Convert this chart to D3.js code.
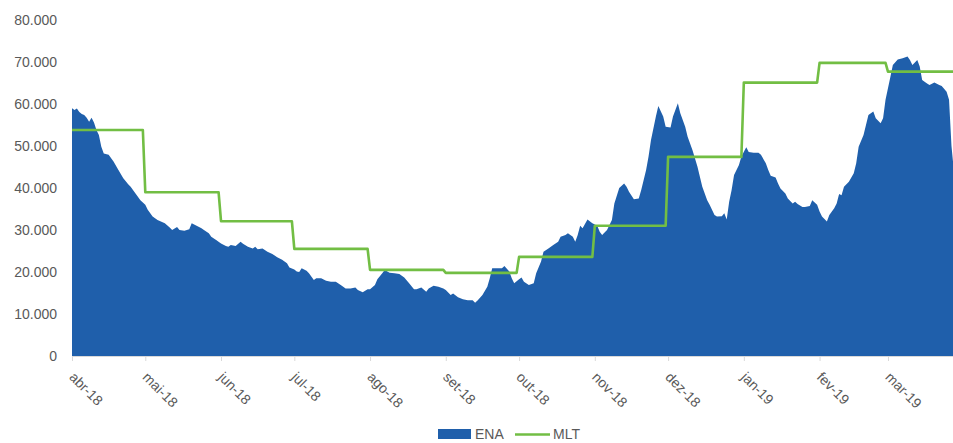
<!DOCTYPE html>
<html>
<head>
<meta charset="utf-8">
<script src="https://cdn.jsdelivr.net/npm/d3@7"></script>
<style>
  html, body { margin: 0; padding: 0; background: #ffffff; }
  svg { display: block; font-family: "Liberation Sans", Arial, sans-serif; }
</style>
</head>
<body>
<svg id="chart" width="953" height="443"></svg>
<script>
// Energia Natural Afluente (ENA) diária, MWmed
const enaSeries = [
  ["2018-04-01", 59000], ["2018-04-02", 58600], ["2018-04-03", 58900], ["2018-04-04", 58100],
  ["2018-04-05", 57600], ["2018-04-06", 57400], ["2018-04-07", 56700], ["2018-04-08", 55800],
  ["2018-04-09", 56700], ["2018-04-10", 55600], ["2018-04-11", 53800], ["2018-04-12", 52600],
  ["2018-04-13", 49800], ["2018-04-14", 48200], ["2018-04-16", 47900], ["2018-04-18", 46300],
  ["2018-04-20", 44300], ["2018-04-22", 42300], ["2018-04-24", 40900], ["2018-04-25", 40300],
  ["2018-04-27", 38700], ["2018-04-29", 37100], ["2018-05-01", 36000], ["2018-05-02", 34800],
  ["2018-05-04", 33200], ["2018-05-06", 32400], ["2018-05-09", 31600], ["2018-05-11", 30600],
  ["2018-05-12", 30000], ["2018-05-14", 30700], ["2018-05-15", 30000], ["2018-05-17", 29800],
  ["2018-05-19", 30200], ["2018-05-20", 31600], ["2018-05-22", 31000], ["2018-05-24", 30400],
  ["2018-05-25", 30000], ["2018-05-27", 29200], ["2018-05-28", 28400], ["2018-05-30", 27600],
  ["2018-06-01", 26800], ["2018-06-03", 26200], ["2018-06-04", 26000], ["2018-06-05", 26400],
  ["2018-06-07", 26200], ["2018-06-09", 27200], ["2018-06-10", 26700], ["2018-06-12", 26000],
  ["2018-06-14", 25600], ["2018-06-15", 26000], ["2018-06-16", 25400], ["2018-06-18", 25600],
  ["2018-06-20", 24800], ["2018-06-22", 24300], ["2018-06-24", 23500], ["2018-06-26", 22900],
  ["2018-06-28", 22100], ["2018-06-29", 21100], ["2018-07-01", 20600], ["2018-07-02", 20100],
  ["2018-07-03", 20000], ["2018-07-04", 20900], ["2018-07-06", 20300], ["2018-07-07", 19700],
  ["2018-07-09", 18100], ["2018-07-10", 18500], ["2018-07-12", 18500], ["2018-07-14", 17900],
  ["2018-07-16", 17700], ["2018-07-18", 17700], ["2018-07-20", 16900], ["2018-07-22", 16100],
  ["2018-07-24", 16100], ["2018-07-26", 16300], ["2018-07-27", 15700], ["2018-07-29", 15200],
  ["2018-07-31", 15900], ["2018-08-01", 15900], ["2018-08-03", 16900], ["2018-08-04", 18300],
  ["2018-08-06", 19700], ["2018-08-07", 20500], ["2018-08-09", 19800], ["2018-08-11", 19700],
  ["2018-08-13", 19500], ["2018-08-15", 18700], ["2018-08-17", 17300], ["2018-08-19", 15900],
  ["2018-08-20", 15900], ["2018-08-22", 16300], ["2018-08-24", 15300], ["2018-08-25", 16100],
  ["2018-08-27", 16700], ["2018-08-29", 16500], ["2018-08-31", 16100], ["2018-09-01", 15700],
  ["2018-09-03", 14500], ["2018-09-04", 14900], ["2018-09-06", 14000], ["2018-09-08", 13500],
  ["2018-09-10", 13300], ["2018-09-12", 13300], ["2018-09-13", 12700], ["2018-09-14", 13200],
  ["2018-09-16", 14500], ["2018-09-18", 16500], ["2018-09-19", 18500], ["2018-09-20", 20900],
  ["2018-09-22", 20900], ["2018-09-24", 20900], ["2018-09-25", 21400], ["2018-09-27", 20100],
  ["2018-09-28", 18500], ["2018-09-29", 17300], ["2018-10-01", 18300], ["2018-10-02", 18700],
  ["2018-10-03", 17700], ["2018-10-05", 16900], ["2018-10-07", 17300], ["2018-10-08", 19700],
  ["2018-10-10", 22500], ["2018-10-11", 24800], ["2018-10-13", 25600], ["2018-10-15", 26400],
  ["2018-10-17", 27200], ["2018-10-18", 28400], ["2018-10-20", 28800], ["2018-10-21", 29200],
  ["2018-10-23", 28400], ["2018-10-24", 27200], ["2018-10-25", 28800], ["2018-10-26", 31000],
  ["2018-10-27", 30400], ["2018-10-29", 32500], ["2018-10-31", 31600], ["2018-11-02", 31000],
  ["2018-11-03", 29600], ["2018-11-04", 28800], ["2018-11-06", 30000], ["2018-11-08", 32400],
  ["2018-11-09", 36300], ["2018-11-11", 40000], ["2018-11-13", 41100], ["2018-11-14", 40300],
  ["2018-11-15", 39100], ["2018-11-17", 37300], ["2018-11-19", 37500], ["2018-11-20", 39500],
  ["2018-11-22", 44300], ["2018-11-23", 47500], ["2018-11-24", 51400], ["2018-11-26", 57000],
  ["2018-11-27", 59500], ["2018-11-29", 57000], ["2018-11-30", 54600], ["2018-12-02", 54400],
  ["2018-12-03", 57000], ["2018-12-05", 60200], ["2018-12-06", 57800], ["2018-12-08", 54600],
  ["2018-12-09", 52200], ["2018-12-11", 49000], ["2018-12-13", 45100], ["2018-12-15", 40300],
  ["2018-12-17", 37100], ["2018-12-18", 36000], ["2018-12-20", 33600], ["2018-12-21", 33200],
  ["2018-12-23", 33300], ["2018-12-24", 34000], ["2018-12-25", 32500], ["2018-12-26", 36700],
  ["2018-12-27", 39500], ["2018-12-28", 43100], ["2018-12-30", 45500], ["2018-12-31", 47500],
  ["2019-01-02", 49700], ["2019-01-03", 48600], ["2019-01-05", 48400], ["2019-01-07", 48400],
  ["2019-01-08", 47900], ["2019-01-10", 45900], ["2019-01-11", 44300], ["2019-01-12", 42900],
  ["2019-01-14", 42500], ["2019-01-15", 41100], ["2019-01-16", 39900], ["2019-01-18", 38700],
  ["2019-01-19", 37500], ["2019-01-21", 36300], ["2019-01-22", 36700], ["2019-01-23", 36200],
  ["2019-01-25", 35500], ["2019-01-26", 35500], ["2019-01-28", 35700], ["2019-01-29", 37100],
  ["2019-01-31", 36000], ["2019-02-01", 34400], ["2019-02-02", 33200], ["2019-02-04", 32000],
  ["2019-02-05", 33600], ["2019-02-07", 35200], ["2019-02-08", 36300], ["2019-02-09", 38600],
  ["2019-02-10", 38300], ["2019-02-11", 40300], ["2019-02-13", 41500], ["2019-02-15", 43500],
  ["2019-02-16", 45900], ["2019-02-17", 49800], ["2019-02-19", 52600], ["2019-02-20", 55000],
  ["2019-02-21", 57400], ["2019-02-23", 58200], ["2019-02-24", 56600], ["2019-02-26", 55400],
  ["2019-02-27", 56600], ["2019-02-28", 61000], ["2019-03-02", 66500], ["2019-03-03", 69300],
  ["2019-03-05", 70600], ["2019-03-07", 70900], ["2019-03-09", 71300], ["2019-03-10", 70500],
  ["2019-03-11", 69300], ["2019-03-13", 70500], ["2019-03-14", 68900], ["2019-03-15", 65700],
  ["2019-03-17", 64900], ["2019-03-18", 64500], ["2019-03-20", 65100], ["2019-03-22", 64500],
  ["2019-03-23", 64300], ["2019-03-25", 62900], ["2019-03-26", 61000], ["2019-03-27", 50000],
  ["2019-03-28", 44000]
];

// Média de Longo Termo (MLT) mensal, MWmed
const monthLabels = ["abr-18", "mai-18", "jun-18", "jul-18", "ago-18", "set-18",
                     "out-18", "nov-18", "dez-18", "jan-19", "fev-19", "mar-19"];
const mltValues = [53800, 39000, 32100, 25500, 20500, 19800,
                   23600, 31000, 47400, 65100, 69800, 67700];

const yTicks = [0, 10000, 20000, 30000, 40000, 50000, 60000, 70000, 80000];

const colors = { ena: "#1f5fab", mlt: "#72be44", text: "#595959", axis: "#d9d9d9" };

const width = 953, height = 443;
const margin = { left: 72, top: 20, bottom: 87 };
const parse = d3.timeParse("%Y-%m-%d");
const start = new Date(2018, 3, 1), end = new Date(2019, 3, 1);

const svg = d3.select("#chart");

const x = d3.scaleTime()
  .domain([start, end])
  .range([margin.left, margin.left + 891.7]);
const y = d3.scaleLinear()
  .domain([0, 80000])
  .range([height - margin.bottom, margin.top]);

const ptBR = d3.formatLocale({ decimal: ",", thousands: ".", grouping: [3], currency: ["R$", ""] });
const fmt = ptBR.format(",.0f");

svg.append("defs").append("clipPath").attr("id", "plot-clip")
  .append("rect").attr("x", margin.left).attr("y", 0)
  .attr("width", width - margin.left).attr("height", y(0) + 1);

const plot = svg.append("g").attr("clip-path", "url(#plot-clip)");

// ENA area
const ena = enaSeries.map(([d, v]) => ({ date: parse(d), value: v }));
plot.append("path")
  .datum(ena)
  .attr("fill", colors.ena)
  .attr("d", d3.area().x(d => x(d.date)).y0(y(0)).y1(d => y(d.value)));

// MLT: one flat segment per month, from the first to the last day
const monthStarts = d3.timeMonth.range(start, end);
const mlt = [];
monthStarts.forEach((m, i) => {
  const last = d3.timeDay.offset(d3.timeMonth.offset(m, 1), -1);
  mlt.push({ date: m, value: mltValues[i] });
  mlt.push({ date: last, value: mltValues[i] });
});
plot.append("path")
  .datum(mlt)
  .attr("fill", "none")
  .attr("stroke", colors.mlt)
  .attr("stroke-width", 2.6)
  .attr("stroke-linejoin", "round")
  .attr("d", d3.line().x(d => x(d.date)).y(d => y(d.value)));

// Y axis labels (no axis line)
const yAxis = svg.append("g")
  .attr("transform", `translate(${margin.left},0)`)
  .call(d3.axisLeft(y).tickValues(yTicks).tickFormat(fmt).tickSize(0).tickPadding(15));
yAxis.select(".domain").remove();
yAxis.selectAll("text")
  .attr("fill", colors.text)
  .style("font-size", "14px")
  .style("font-family", "'Liberation Sans', Arial, sans-serif");

// X axis
const xAxis = svg.append("g")
  .attr("transform", `translate(0,${y(0)})`)
  .call(d3.axisBottom(x).tickValues(monthStarts).tickSize(5).tickFormat((d, i) => monthLabels[i]));
xAxis.select(".domain")
  .attr("d", `M${margin.left},0.5H${width}`)
  .attr("stroke", colors.axis);
xAxis.selectAll(".tick line").attr("stroke", colors.axis);
xAxis.selectAll(".tick text")
  .attr("fill", colors.text)
  .style("font-size", "14px")
  .style("font-family", "'Liberation Sans', Arial, sans-serif")
  .attr("text-anchor", "start")
  .attr("x", 0).attr("y", 0).attr("dy", 0)
  .attr("transform", "translate(-4,22) rotate(45)");

// Legend
const legend = svg.append("g").attr("transform", "translate(438,0)");
legend.append("rect")
  .attr("x", 0).attr("y", 429).attr("width", 33).attr("height", 10)
  .attr("fill", colors.ena);
legend.append("text")
  .attr("x", 37).attr("y", 439)
  .attr("fill", colors.text).style("font-size", "14px").text("ENA");
legend.append("line")
  .attr("x1", 77).attr("x2", 112).attr("y1", 434.5).attr("y2", 434.5)
  .attr("stroke", colors.mlt).attr("stroke-width", 2.6);
legend.append("text")
  .attr("x", 115).attr("y", 439)
  .attr("fill", colors.text).style("font-size", "14px").text("MLT");
</script>
</body>
</html>
